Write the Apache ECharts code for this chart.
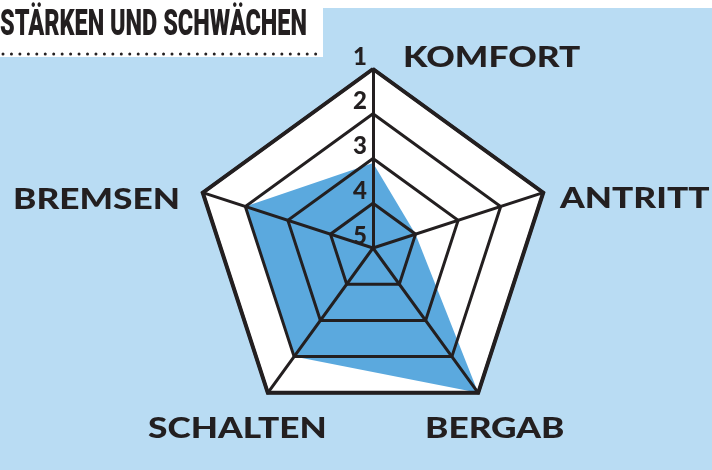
<!DOCTYPE html>
<html>
<head>
<meta charset="utf-8">
<title>Stärken und Schwächen</title>
<script src="https://cdn.jsdelivr.net/npm/echarts@6/dist/echarts.min.js"></script>
<style>
  html, body { margin: 0; padding: 0; background: #b9dcf3; }
  #chart { width: 712px; height: 470px; }
</style>
</head>
<body>
<div id="chart"></div>
<script>
// data (order = counter-clockwise from the top, as ECharts places indicators)
var title = 'STÄRKEN UND SCHWÄCHEN';
var categories = ['KOMFORT', 'BREMSEN', 'SCHALTEN', 'BERGAB', 'ANTRITT'];
var ratings = [3.1, 2, 2, 1, 4];          // 1 = best (outer ring), 5 = centre
var tickLabels = ['1', '2', '3', '4', '5'];

// layout of the category names (left edge, vertical middle)
var namePos = [[403, 58], [13, 199.5], [148, 428.5], [425, 428.5], [560, 199]];

var ink = '#231f20';
var nameFont = '900 28px Lato';
var titleFont = '900 36px Roboto';

var ctx = document.createElement('canvas').getContext('2d');
function textWidth(str, font) {
  ctx.font = font;
  return ctx.measureText(str).width;
}
// the print uses a wide tracked face, the title a condensed one
var nameScale = 167 / textWidth('BREMSEN', nameFont);
var titleScale = 307 / textWidth(title, titleFont);

// radar axis runs 1..5 outward, rating 1 sits on the outer ring
var plotted = ratings.map(function (r) { return 6 - r; });

var indicators = categories.map(function (c) {
  return { name: c, min: 1, max: 5 };
});

var center = [373, 248];
var radius = 179;

var chart = echarts.init(document.getElementById('chart'));

var graphics = [
  { type: 'rect', shape: { x: 0, y: 0, width: 712, height: 8 }, style: { fill: '#fff' } },
  { type: 'rect', shape: { x: 0, y: 0, width: 323, height: 57 }, style: { fill: '#fff' } },
  {
    type: 'line', shape: { x1: 3, y1: 54, x2: 322, y2: 54 },
    style: { stroke: ink, lineWidth: 3, lineDash: [0, 8.45], lineCap: 'round' }
  },
  {
    type: 'text', x: 0, y: 25.5, scaleX: titleScale,
    style: { text: title, font: titleFont, fill: ink, align: 'left', verticalAlign: 'middle' }
  }
];
categories.forEach(function (c, i) {
  graphics.push({
    type: 'text', x: namePos[i][0], y: namePos[i][1], scaleX: nameScale,
    style: { text: c, font: nameFont, fill: ink, align: 'left', verticalAlign: 'middle' }
  });
});

chart.setOption({
  backgroundColor: '#b9dcf3',
  animation: false,
  graphic: graphics,
  radar: [
    {
      // white plate under the data
      center: center, radius: radius, shape: 'polygon', splitNumber: 4, z: 0,
      indicator: indicators,
      axisName: { show: false },
      axisLine: { show: false },
      splitLine: { show: false },
      splitArea: { show: true, areaStyle: { color: ['#ffffff'], opacity: 1 } }
    },
    {
      // grid lines on top of the data
      center: center, radius: radius, shape: 'polygon', splitNumber: 4, z: 3,
      indicator: indicators.map(function (ind, i) {
        var o = { name: ind.name, min: ind.min, max: ind.max };
        if (i === 0) {
          o.axisLabel = { show: true };
        }
        return o;
      }),
      axisName: { show: false },
      axisLine: { show: true, lineStyle: { color: ink, width: 3 } },
      axisTick: { show: false },
      axisLabel: {
        show: false,
        margin: 6,
        align: 'right',
        verticalAlign: 'bottom',
        color: ink,
        fontFamily: 'Lato',
        fontWeight: 900,
        fontSize: 24,
        formatter: function (v) { return tickLabels[5 - v]; }
      },
      splitLine: { show: true, lineStyle: { color: ink, width: 3 } },
      splitArea: { show: false }
    },
    {
      // heavier outer frame
      center: center, radius: radius, shape: 'polygon', splitNumber: 1, z: 3,
      indicator: indicators,
      axisName: { show: false },
      axisLine: { show: false },
      splitLine: { show: true, lineStyle: { color: ink, width: 4 } },
      splitArea: { show: false }
    }
  ],
  series: [{
    type: 'radar',
    radarIndex: 0,
    z: 2,
    symbol: 'none',
    lineStyle: { width: 0 },
    areaStyle: { color: '#5ba9de', opacity: 1 },
    data: [{ value: plotted, name: 'Bewertung' }]
  }]
});
</script>
</body>
</html>
